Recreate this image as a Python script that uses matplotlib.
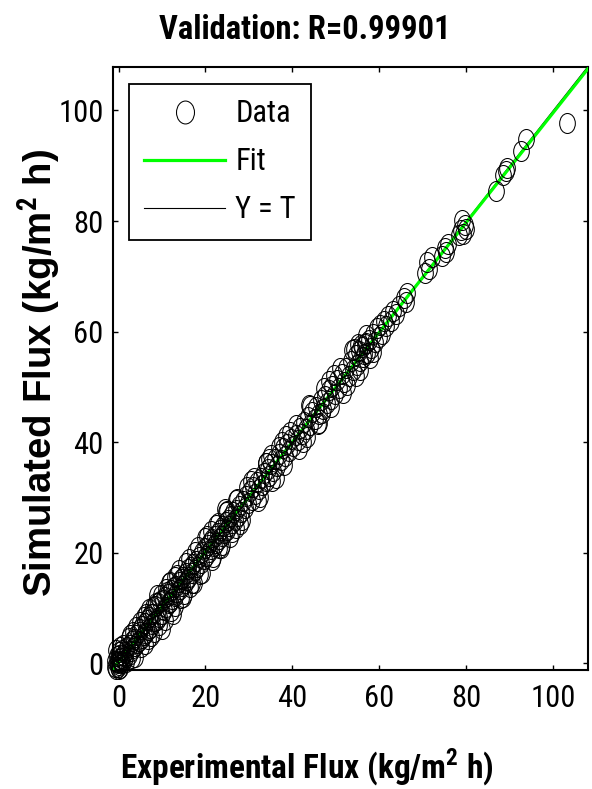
import numpy as np
import matplotlib
matplotlib.use("Agg")
import matplotlib.pyplot as plt
from matplotlib.path import Path
from matplotlib.transforms import Affine2D

# ---- data: experimental (target) flux vs simulated (network output) flux ----
exp_flux = [
    # near zero
    -0.9, -0.7, -0.5, -0.4, -0.2, -0.1, 0.0, 0.0, 0.1, 0.2, 0.3, 0.4, 0.5, 0.6,
    0.7, 0.9, 1.0, 1.2, 1.4, 1.6, 0.2, -0.3, 0.3, 1.8, -0.6, 2.4, 3.0,
    # 2 - 10
    2.0, 2.3, 2.6, 2.9, 3.1, 3.4, 3.6, 3.9, 4.1, 4.3, 4.6, 4.8, 5.0, 5.3, 5.5,
    5.8, 6.0, 6.2, 6.5, 6.7, 7.0, 7.2, 7.5, 7.7, 8.0, 8.3, 8.5, 8.8, 9.0, 9.3,
    9.6, 9.9, 10.1, 8.9, 12.6, 11.5,
    4.0, 5.2, 6.4, 7.4, 8.6, 9.4, 5.9, 3.3, 7.9, 6.8,
    1.1, 2.7, 3.7, 4.9, 6.1, 7.1, 8.2, 9.7,
    # 10 - 20
    10.2, 10.5, 10.8, 11.0, 11.3, 11.6, 11.9, 12.1, 12.4, 12.7, 13.0, 13.2,
    13.5, 13.8, 14.1, 14.4, 14.6, 14.9, 15.2, 15.5, 15.8, 16.0, 16.3, 16.6,
    16.9, 17.2, 17.5, 17.8, 18.1, 18.5, 18.9, 19.3,
    10.9, 12.0, 13.4, 14.3, 15.6, 16.5, 17.6, 18.7, 12.9, 15.0, 11.2, 17.0,
    10.6, 11.8, 13.1, 14.0, 14.8, 16.1, 17.3, 18.3, 19.1,
    # 20 - 30
    19.6, 19.9, 20.2, 20.5, 20.8, 21.0, 21.3, 21.6, 21.9, 22.2, 22.5, 22.8,
    23.1, 23.4, 23.7, 24.0, 24.3, 24.6, 24.9, 25.2, 25.5, 25.8, 26.1, 26.4,
    26.7, 27.0, 27.4, 27.8, 28.2, 28.6, 29.0, 29.4, 29.8, 24.5,
    20.4, 21.7, 22.9, 23.8, 25.0, 26.2, 27.3, 28.4, 29.6, 21.2, 26.9, 23.2,
    20.0, 21.4, 22.4, 23.5, 24.8, 25.7, 27.1, 28.0,
    # 30 - 40
    30.2, 30.6, 31.0, 31.4, 31.9, 32.3, 32.7, 33.1, 33.5, 33.9, 34.3, 34.7,
    35.1, 35.6, 36.0, 36.5, 37.0, 37.4, 37.9, 38.3, 38.8, 39.2, 39.7, 34.0,
    31.2, 32.5, 33.8, 35.3, 36.8, 38.1, 39.4, 34.5, 37.7,
    30.5, 32.0, 35.0, 36.3, 38.6,
    # 40 - 50
    40.2, 40.7, 41.2, 41.7, 42.2, 42.7, 43.2, 43.6, 44.1, 44.6, 45.1, 45.5,
    46.0, 46.5, 47.0, 47.4, 47.9, 48.3, 48.8, 49.2, 49.7, 48.5,
    40.9, 42.5, 44.0, 45.8, 47.2, 48.9, 43.4, 46.8,
    41.5, 43.9, 46.2, 49.5,
    # 50 - 60
    50.2, 50.7, 51.3, 51.8, 52.4, 52.9, 53.5, 54.0, 54.5, 54.9, 55.3, 55.6,
    56.0, 56.3, 56.7, 57.1, 57.5, 58.0, 58.5, 59.0, 59.4, 59.8, 55.8, 56.5,
    51.0, 52.6, 54.2, 55.5, 57.0, 58.6, 56.9, 55.0,
    51.6, 53.8, 57.8, 54.6,
    # 60 - 67
    60.2, 60.6, 61.0, 61.5, 62.0, 62.6, 63.2, 63.8, 65.6, 66.0, 66.4, 64.5,
    # 70 - 80
    70.5, 71.0, 71.5, 72.0, 74.5, 75.0, 75.3, 75.8, 78.2, 78.7, 79.2, 79.6,
    80.0, 79.0,
    # high flux
    86.8, 88.5, 89.0, 89.4, 92.5, 93.8, 103.1,
]

sim_flux = [
    -0.6, 0.5, -1.0, 1.3, 0.1, -0.7, 0.8, 2.1, -0.3, 1.6, 0.4, -0.8, 1.0, 0.2,
    2.4, 0.0, 1.5, 0.6, 2.0, 1.1, -1.1, 0.3, 3.0, 0.2, 2.4, 4.6, 0.9,
    2.9, 1.6, 3.4, 2.2, 4.0, 2.8, 4.5, 3.2, 5.1, 3.6, 5.6, 4.1, 6.2, 4.6, 6.7,
    5.1, 7.3, 5.5, 7.8, 6.0, 8.3, 6.4, 9.0, 7.1, 8.9, 7.6, 10.4, 7.9, 10.9, 8.4,
    11.2, 9.0, 6.2, 12.4, 9.0, 14.6,
    6.5, 2.9, 8.9, 4.9, 11.0, 6.9, 8.3, 5.6, 10.2, 4.4,
    3.4, 5.2, 1.2, 7.4, 3.5, 9.8, 5.7, 12.3,
    11.4, 9.6, 12.0, 10.2, 12.5, 11.0, 11.1, 13.2, 11.6, 13.9, 12.2, 14.0,
    12.9, 14.8, 13.5, 15.3, 14.0, 15.7, 14.6, 16.4, 15.0, 17.0, 15.6, 17.5,
    16.3, 17.9, 16.8, 18.6, 17.4, 19.3, 18.2, 20.1,
    13.5, 9.4, 16.0, 11.8, 18.1, 13.9, 20.2, 16.1, 15.6, 12.6, 12.9, 14.6,
    7.8, 14.7, 10.4, 16.9, 12.0, 18.9, 14.5, 21.0, 16.3,
    18.8, 20.9, 19.5, 21.4, 20.1, 22.0, 20.6, 22.5, 21.2, 23.1, 21.8, 23.6,
    22.5, 24.2, 23.0, 24.9, 23.6, 25.5, 24.1, 26.0, 24.8, 26.6, 25.3, 27.3,
    25.9, 27.8, 26.6, 28.5, 27.4, 29.3, 28.1, 30.2, 29.0, 28.0,
    23.0, 19.2, 25.3, 21.4, 27.6, 23.7, 29.8, 25.9, 31.9, 24.0, 24.5, 20.8,
    22.7, 18.7, 25.1, 20.9, 27.4, 22.9, 29.6, 25.2,
    31.1, 29.6, 31.9, 30.6, 32.8, 31.5, 33.6, 32.2, 34.5, 33.0, 35.2, 33.9,
    36.0, 34.8, 37.0, 35.7, 37.8, 36.7, 38.9, 37.5, 39.6, 38.4, 40.6, 36.3,
    33.6, 30.1, 36.3, 32.9, 39.2, 35.8, 41.8, 37.0, 40.0,
    33.0, 29.3, 37.7, 33.5, 41.2,
    39.3, 41.3, 40.4, 42.6, 41.5, 43.6, 42.3, 44.5, 43.2, 45.5, 44.2, 46.4,
    45.1, 47.6, 46.0, 48.3, 47.0, 49.4, 47.9, 50.2, 48.8, 51.0,
    43.2, 40.1, 46.5, 43.3, 49.8, 46.4, 41.0, 45.2,
    38.8, 46.8, 43.4, 52.2,
    51.3, 49.8, 52.4, 50.9, 53.4, 52.0, 54.6, 53.1, 55.7, 54.0, 56.5, 54.6,
    57.2, 55.4, 57.8, 56.2, 58.4, 57.0, 59.6, 58.1, 60.6, 59.1, 57.5, 56.0,
    53.5, 50.3, 56.8, 53.1, 59.4, 56.3, 58.0, 57.8,
    48.9, 56.6, 55.2, 52.0,
    61.2, 59.6, 62.0, 61.0, 62.9, 62.0, 63.8, 63.1, 66.1, 65.4, 66.9, 64.7,
    70.6, 72.6, 71.3, 73.5, 73.6, 75.2, 74.4, 75.8, 77.5, 78.3, 77.6, 79.2,
    78.6, 80.1,
    85.5, 88.4, 89.0, 89.5, 92.6, 94.9, 97.7,
]

axis_range = [-1.2, 107.9]
tick_values = [0, 20, 40, 60, 80, 100]
legend_labels = ["Data", "Fit", "Y = T"]
title_text = "Validation: R=0.99901"

# ---- fonts ----
NARROW = ["Roboto Condensed", "Archivo Narrow", "Liberation Sans", "DejaVu Sans"]
NARROW_BOLD = ["Roboto Condensed", "Liberation Sans", "DejaVu Sans"]
WIDE = ["Liberation Sans", "DejaVu Sans"]
plt.rcParams["font.family"] = NARROW
plt.rcParams["mathtext.fontset"] = "custom"
plt.rcParams["mathtext.rm"] = "Roboto Condensed"
plt.rcParams["mathtext.bf"] = "Roboto Condensed:bold"

fig = plt.figure(figsize=(5.92, 7.89), dpi=100)
ax = fig.add_axes([0.1914, 0.1508, 0.8014, 0.7646])

x = np.asarray(exp_flux)
y = np.asarray(sim_flux)

# least-squares fit of simulated on experimental
slope, offset = np.polyfit(x, y, 1)
line_x = np.array(axis_range)

# slightly tall ellipse used as the circle marker
ellipse = Path.unit_circle().transformed(Affine2D().scale(1 / 1.275, 1.0))

(h_yt,) = ax.plot(line_x, line_x, color="black", lw=0.8, zorder=2)
(h_fit,) = ax.plot(line_x, slope * line_x + offset, color="#00ff00", lw=2.3,
                   zorder=3)
(h_data,) = ax.plot(x, y, linestyle="none", marker=ellipse, markersize=14.4,
                    markerfacecolor="none", markeredgecolor="black",
                    markeredgewidth=0.75, zorder=4, clip_on=False)

ax.set_xlim(axis_range)
ax.set_ylim(axis_range)
ax.set_xticks(tick_values)
ax.set_yticks(tick_values)
ax.tick_params(direction="in", length=3.6, width=1.0, top=True, right=True,
               labelsize=22)
ax.tick_params(axis="x", pad=10)
ax.tick_params(axis="y", pad=7)
for sp in ax.spines.values():
    sp.set_linewidth(1.5)

leg = ax.legend([h_data, h_fit, h_yt], legend_labels, loc="upper left",
                bbox_to_anchor=(0.0331, 0.9713), borderaxespad=0,
                fontsize=22, numpoints=1, handlelength=2.65,
                handletextpad=0.33, borderpad=0.5, labelspacing=0.62,
                fancybox=False, framealpha=1, edgecolor="black")
leg.get_frame().set_linewidth(1.3)
leg.legend_handles[0].set_markersize(16.5)

fig.text(0.515, 1 - 39 / 789, title_text, ha="center", va="baseline",
         fontsize=23.5, fontweight="bold", family=NARROW_BOLD)
fig.text(0.519, 1 - 778 / 789, r"Experimental Flux (kg/m$^{\mathbf{2}}$ h)",
         ha="center", va="baseline", fontsize=24, fontweight="bold",
         family=NARROW_BOLD)
fig.text(52.7 / 592, 1 - 373 / 789, r"Simulated Flux (kg/m$^{\mathbf{2}}$ h)",
         rotation=90, rotation_mode="anchor", ha="center", va="baseline",
         fontsize=27.6, fontweight="bold", family=WIDE)

fig.savefig("out.png", dpi=100)
